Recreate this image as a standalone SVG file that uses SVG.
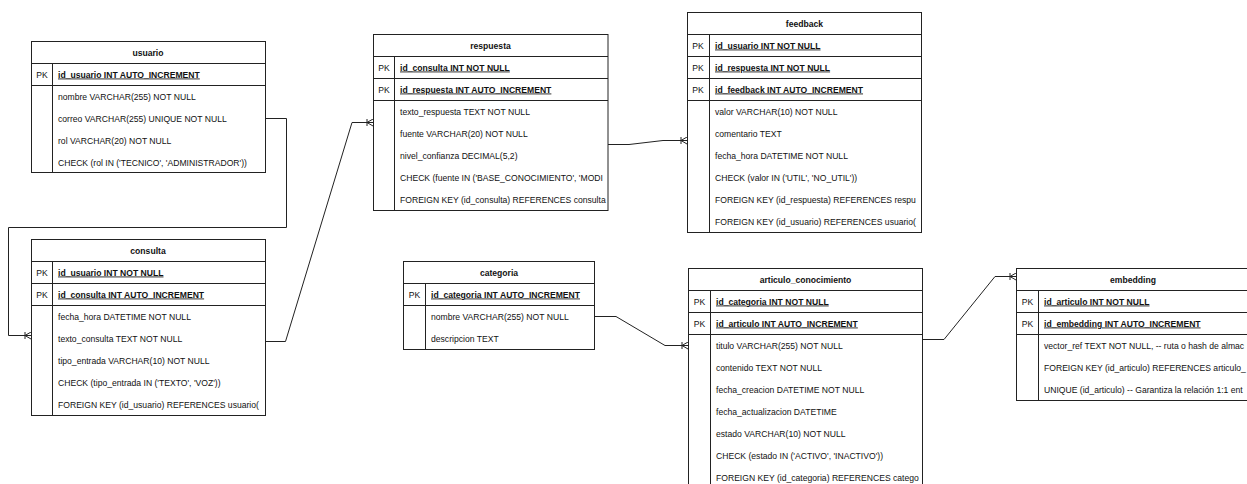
<svg xmlns="http://www.w3.org/2000/svg" width="1247" height="484" viewBox="0 0 1247 484">
<style>
.box{fill:#fff;stroke:#222;stroke-width:1}
.ln{fill:none;stroke:#222;stroke-width:1}
text{font-family:"Liberation Sans",Arial,Helvetica,sans-serif;font-size:8.6px;fill:#111}
.t{text-anchor:middle;font-weight:bold}
.pk{text-anchor:middle}
.k{font-weight:bold;text-decoration:underline}
.edge{fill:none;stroke:#222;stroke-width:1}
</style>
<defs>
<marker id="many" viewBox="0 0 8 8" refX="8" refY="4" markerWidth="8" markerHeight="8" markerUnits="userSpaceOnUse" orient="auto">
<path d="M2,0.5 V7.5 M2,4 L8,0.5 M2,4 L8,7.5 M0,4 H8" fill="none" stroke="#222" stroke-width="1"/>
</marker>
<clipPath id="c-usuario"><rect x="31" y="41" width="234" height="132"/></clipPath>
<clipPath id="c-consulta"><rect x="31" y="239" width="233.5" height="176"/></clipPath>
<clipPath id="c-respuesta"><rect x="373" y="34" width="234.5" height="176"/></clipPath>
<clipPath id="c-feedback"><rect x="687" y="12" width="233.5" height="220"/></clipPath>
<clipPath id="c-categoria"><rect x="403" y="261" width="191" height="88"/></clipPath>
<clipPath id="c-articulo"><rect x="688" y="268" width="233.5" height="220"/></clipPath>
<clipPath id="c-embedding"><rect x="1016" y="268" width="240" height="132"/></clipPath>
</defs>
<rect width="1247" height="484" fill="#fff"/>

<g id="connectors">
<path class="edge" d="M265.5,118.5 H286.5 V227.5 H8.5 V335.5 H31" marker-end="url(#many)"/>
<path class="edge" d="M265.5,341.5 H285.5 L352,122.5 H373" marker-end="url(#many)"/>
<path class="edge" d="M608,144.5 H629 L663,140.5 H687" marker-end="url(#many)"/>
<path class="edge" d="M594,316.5 H616 L665,345.5 H688" marker-end="url(#many)"/>
<path class="edge" d="M922,339.5 H944 L995,276.5 H1016" marker-end="url(#many)"/>
</g>

<g id="usuario">
<rect class="box" x="31.5" y="41.5" width="234" height="131"/>
<path class="ln" d="M31.5,63.5 H265.5 M31.5,85.5 H265.5 M52.5,63.5 V172.5"/>
<g clip-path="url(#c-usuario)">
<text class="t" x="148" y="55.5">usuario</text>
<text class="pk" x="42" y="77.5">PK</text>
<text class="k" x="58" y="77.5">id_usuario INT AUTO_INCREMENT</text>
<text x="58" y="99.5">nombre VARCHAR(255) NOT NULL</text>
<text x="58" y="121.5">correo VARCHAR(255) UNIQUE NOT NULL</text>
<text x="58" y="143.5">rol VARCHAR(20) NOT NULL</text>
<text x="58" y="165.5">CHECK (rol IN ('TECNICO', 'ADMINISTRADOR'))</text>
</g>
</g>

<g id="consulta">
<rect class="box" x="31.5" y="239.5" width="234" height="176"/>
<path class="ln" d="M31.5,261.5 H265.5 M31.5,283.5 H265.5 M31.5,305.5 H265.5 M52.5,261.5 V415.5"/>
<g clip-path="url(#c-consulta)">
<text class="t" x="148" y="253.5">consulta</text>
<text class="pk" x="42" y="275.5">PK</text>
<text class="k" x="58" y="275.5">id_usuario INT NOT NULL</text>
<text class="pk" x="42" y="297.5">PK</text>
<text class="k" x="58" y="297.5">id_consulta INT AUTO_INCREMENT</text>
<text x="58" y="319.5">fecha_hora DATETIME NOT NULL</text>
<text x="58" y="341.5">texto_consulta TEXT NOT NULL</text>
<text x="58" y="363.5">tipo_entrada VARCHAR(10) NOT NULL</text>
<text x="58" y="385.5">CHECK (tipo_entrada IN ('TEXTO', 'VOZ'))</text>
<text x="58" y="407.5">FOREIGN KEY (id_usuario) REFERENCES usuario(</text>
</g>
</g>

<g id="respuesta">
<rect class="box" x="373.5" y="34.5" width="234.5" height="176"/>
<path class="ln" d="M373.5,56.5 H608 M373.5,78.5 H608 M373.5,100.5 H608 M394.5,56.5 V210.5"/>
<g clip-path="url(#c-respuesta)">
<text class="t" x="490.5" y="48.5">respuesta</text>
<text class="pk" x="384" y="70.5">PK</text>
<text class="k" x="400" y="70.5">id_consulta INT NOT NULL</text>
<text class="pk" x="384" y="92.5">PK</text>
<text class="k" x="400" y="92.5">id_respuesta INT AUTO_INCREMENT</text>
<text x="400" y="114.5">texto_respuesta TEXT NOT NULL</text>
<text x="400" y="136.5">fuente VARCHAR(20) NOT NULL</text>
<text x="400" y="158.5">nivel_confianza DECIMAL(5,2)</text>
<text x="400" y="180.5">CHECK (fuente IN ('BASE_CONOCIMIENTO', 'MODI</text>
<text x="400" y="202.5">FOREIGN KEY (id_consulta) REFERENCES consulta</text>
</g>
</g>

<g id="feedback">
<rect class="box" x="687.5" y="12.5" width="234" height="220"/>
<path class="ln" d="M687.5,34.5 H921.5 M687.5,56.5 H921.5 M687.5,78.5 H921.5 M687.5,100.5 H921.5 M709.5,34.5 V232.5"/>
<g clip-path="url(#c-feedback)">
<text class="t" x="804.5" y="26.5">feedback</text>
<text class="pk" x="698" y="48.5">PK</text>
<text class="k" x="715" y="48.5">id_usuario INT NOT NULL</text>
<text class="pk" x="698" y="70.5">PK</text>
<text class="k" x="715" y="70.5">id_respuesta INT NOT NULL</text>
<text class="pk" x="698" y="92.5">PK</text>
<text class="k" x="715" y="92.5">id_feedback INT AUTO_INCREMENT</text>
<text x="715" y="114.5">valor VARCHAR(10) NOT NULL</text>
<text x="715" y="136.5">comentario TEXT</text>
<text x="715" y="158.5">fecha_hora DATETIME NOT NULL</text>
<text x="715" y="180.5">CHECK (valor IN ('UTIL', 'NO_UTIL'))</text>
<text x="715" y="202.5">FOREIGN KEY (id_respuesta) REFERENCES respu</text>
<text x="715" y="224.5">FOREIGN KEY (id_usuario) REFERENCES usuario(</text>
</g>
</g>

<g id="categoria">
<rect class="box" x="403.5" y="261.5" width="191" height="88"/>
<path class="ln" d="M403.5,283.5 H594.5 M403.5,305.5 H594.5 M425.5,283.5 V349.5"/>
<g clip-path="url(#c-categoria)">
<text class="t" x="499" y="275.5">categoria</text>
<text class="pk" x="414.5" y="297.5">PK</text>
<text class="k" x="431" y="297.5">id_categoria INT AUTO_INCREMENT</text>
<text x="431" y="319.5">nombre VARCHAR(255) NOT NULL</text>
<text x="431" y="341.5">descripcion TEXT</text>
</g>
</g>

<g id="articulo_conocimiento">
<rect class="box" x="688.5" y="268.5" width="234" height="222"/>
<path class="ln" d="M688.5,290.5 H922.5 M688.5,312.5 H922.5 M688.5,334.5 H922.5 M710.5,290.5 V490"/>
<g clip-path="url(#c-articulo)">
<text class="t" x="805.5" y="282.5">articulo_conocimiento</text>
<text class="pk" x="699.5" y="304.5">PK</text>
<text class="k" x="716" y="304.5">id_categoria INT NOT NULL</text>
<text class="pk" x="699.5" y="326.5">PK</text>
<text class="k" x="716" y="326.5">id_articulo INT AUTO_INCREMENT</text>
<text x="716" y="348.5">titulo VARCHAR(255) NOT NULL</text>
<text x="716" y="370.5">contenido TEXT NOT NULL</text>
<text x="716" y="392.5">fecha_creacion DATETIME NOT NULL</text>
<text x="716" y="414.5">fecha_actualizacion DATETIME</text>
<text x="716" y="436.5">estado VARCHAR(10) NOT NULL</text>
<text x="716" y="458.5">CHECK (estado IN ('ACTIVO', 'INACTIVO'))</text>
<text x="716" y="480.5">FOREIGN KEY (id_categoria) REFERENCES catego</text>
</g>
</g>

<g id="embedding">
<rect class="box" x="1016.5" y="268.5" width="240" height="132"/>
<path class="ln" d="M1016.5,290.5 H1256 M1016.5,312.5 H1256 M1016.5,334.5 H1256 M1038.5,290.5 V400.5"/>
<g clip-path="url(#c-embedding)">
<text class="t" x="1133" y="282.5">embedding</text>
<text class="pk" x="1027.5" y="304.5">PK</text>
<text class="k" x="1044" y="304.5">id_articulo INT NOT NULL</text>
<text class="pk" x="1027.5" y="326.5">PK</text>
<text class="k" x="1044" y="326.5">id_embedding INT AUTO_INCREMENT</text>
<text x="1044" y="348.5">vector_ref TEXT NOT NULL, -- ruta o hash de almac</text>
<text x="1044" y="370.5">FOREIGN KEY (id_articulo) REFERENCES articulo_</text>
<text x="1044" y="392.5">UNIQUE (id_articulo) -- Garantiza la relación 1:1 ent</text>
</g>
</g>
</svg>
